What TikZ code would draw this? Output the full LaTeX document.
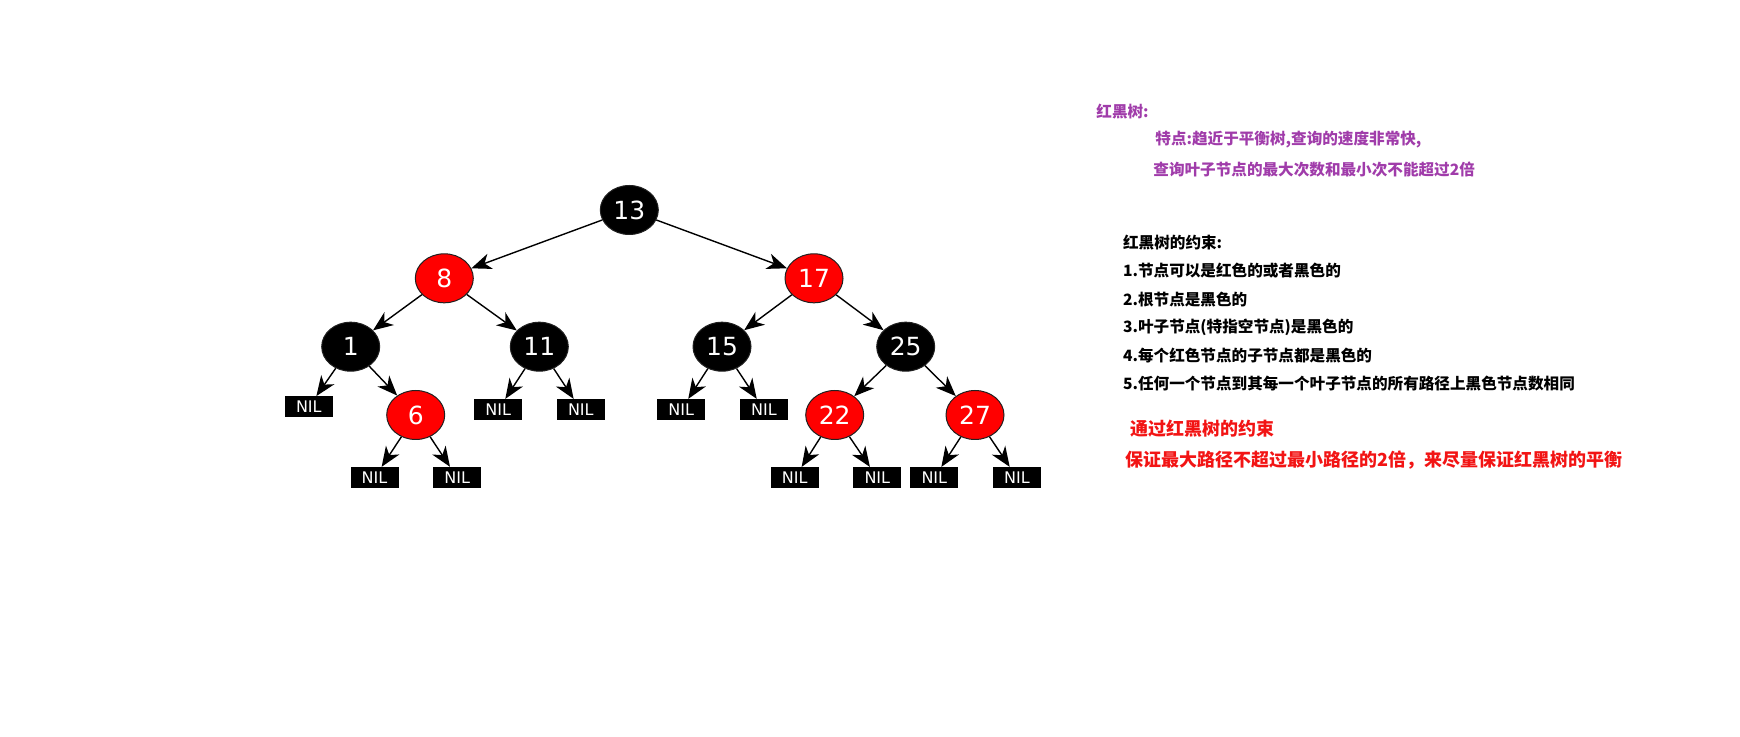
\documentclass[tikz,border=0pt]{standalone}
\usepackage{fontspec}
\usepackage{xcolor}
\usepackage{tikz}
\usetikzlibrary{positioning, arrows.meta, shapes.geometric}
\newfontfamily\numfont{DejaVu Sans}
\newfontfamily\cjk{Noto Sans CJK SC}
\definecolor{rbRed}{HTML}{FF0000}
\definecolor{rbRim}{HTML}{202020}
\definecolor{nPurple}{HTML}{A03CAA}
\definecolor{nRed}{HTML}{F21414}
\tikzset{
  rbnode/.style={ellipse, draw=rbRim, line width=0.5pt, minimum width=29pt, minimum height=24.5pt,
    inner sep=0pt, text=white, font=\numfont\fontsize{12.5}{14}\selectfont},
  blacknode/.style={rbnode, fill=black},
  rednode/.style={rbnode, fill=rbRed},
  nilleaf/.style={fill=black, minimum width=24pt, minimum height=10.5pt, inner sep=0pt,
    text=white, font=\numfont\fontsize{8}{9}\selectfont},
  note/.style={anchor=west, inner sep=0pt, font=\cjk\bfseries\fontsize{7.8}{9}\selectfont},
}

\begin{document}
\begin{tikzpicture}[x=0.5pt, y=-0.5pt, >={Stealth[length=10pt, width=8pt, inset=3pt]},
      link/.style={->, line width=0.7pt, black}]
  \useasboundingbox (0,0) rectangle (1740,737);
  % the tree
  \node[blacknode] (n13) at (629.3,210) {13};
  \node[rednode]   (n8)  at (444.3,278.3) {8};
  \node[rednode]   (n17) at (814,278.3) {17};
  \node[blacknode] (n1)  at (350.7,346.7) {1};
  \node[blacknode] (n11) at (539.3,346.7) {11};
  \node[blacknode] (n15) at (722,346.7) {15};
  \node[blacknode] (n25) at (905.7,346.7) {25};
  \node[rednode]   (n6)  at (415.7,415) {6};
  \node[rednode]   (n22) at (834.7,415) {22};
  \node[rednode]   (n27) at (975,415) {27};
  % leaves
  \node[nilleaf] (nil1)   at (308.8,407) {NIL};
  \node[nilleaf] (nil11a) at (498.2,409.8) {NIL};
  \node[nilleaf] (nil11b) at (580.8,409.8) {NIL};
  \node[nilleaf] (nil15a) at (681.2,409.8) {NIL};
  \node[nilleaf] (nil15b) at (764,409.8) {NIL};
  \node[nilleaf] (nil6a)  at (374.5,477.7) {NIL};
  \node[nilleaf] (nil6b)  at (457.2,477.7) {NIL};
  \node[nilleaf] (nil22a) at (794.7,477.8) {NIL};
  \node[nilleaf] (nil22b) at (877.3,477.8) {NIL};
  \node[nilleaf] (nil27a) at (934.3,477.8) {NIL};
  \node[nilleaf] (nil27b) at (1017,477.8) {NIL};
  \draw[link] (n13) -- (n8);
  \draw[link] (n13) -- (n17);
  \draw[link] (n8) -- (n1);
  \draw[link] (n8) -- (n11);
  \draw[link] (n17) -- (n15);
  \draw[link] (n17) -- (n25);
  \draw[link] (n1) -- (nil1);
  \draw[link] (n1) -- (n6);
  \draw[link] (n11) -- (nil11a);
  \draw[link] (n11) -- (nil11b);
  \draw[link] (n15) -- (nil15a);
  \draw[link] (n15) -- (nil15b);
  \draw[link] (n25) -- (n22);
  \draw[link] (n25) -- (n27);
  \draw[link] (n6) -- (nil6a);
  \draw[link] (n6) -- (nil6b);
  \draw[link] (n22) -- (nil22a);
  \draw[link] (n22) -- (nil22b);
  \draw[link] (n27) -- (nil27a);
  \draw[link] (n27) -- (nil27b);
  % notes
  \node[note, text=nPurple] (title) at (1096,111.5) {红黑树:};
  \node[note, text=nPurple] (feat1) at (1155,140) {特点:趋近于平衡树,查询的速度非常快,};
  \node[note, text=nPurple] (feat2) at (1153,170) {查询叶子节点的最大次数和最小次不能超过2倍};
  \node[note] (rules) at (1122.7,242.7) {红黑树的约束:};
  \node[note] (rule1) at (1122.7,270.7) {1.节点可以是红色的或者黑色的};
  \node[note] (rule2) at (1122.7,299.3) {2.根节点是黑色的};
  \node[note] (rule3) at (1122.7,327.3) {3.叶子节点(特指空节点)是黑色的};
  \node[note] (rule4) at (1122.7,355.7) {4.每个红色节点的子节点都是黑色的};
  \node[note] (rule5) at (1122.7,383.3) {5.任何一个节点到其每一个叶子节点的所有路径上黑色节点数相同};
  \node[note, text=nRed, font=\cjk\bfseries\fontsize{9}{11}\selectfont] (sum1) at (1130,428.3) {通过红黑树的约束};
  \node[note, text=nRed, font=\cjk\bfseries\fontsize{9}{11}\selectfont] (sum2) at (1125,460) {保证最大路径不超过最小路径的2倍，来尽量保证红黑树的平衡};
\end{tikzpicture}
\end{document}
